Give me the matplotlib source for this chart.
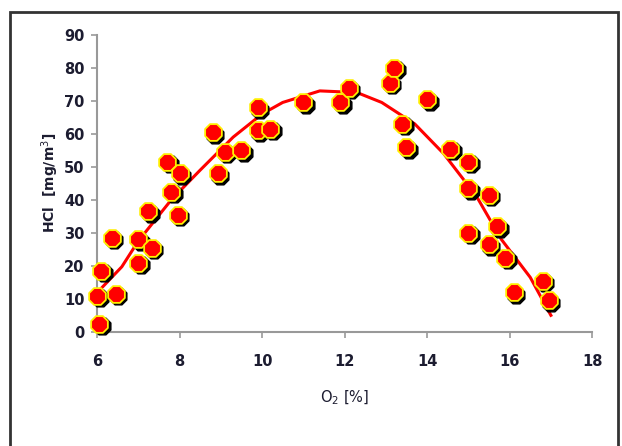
import matplotlib
matplotlib.use("Agg")
import matplotlib.pyplot as plt
import matplotlib.transforms as mtransforms
from matplotlib.patches import Rectangle

# O2 [%] and HCl [mg/m3]
o2 = [6.0, 6.1, 6.05, 6.36, 6.45, 7.0, 7.0, 7.24, 7.33, 7.7, 7.8, 8.0, 7.96,
      8.8, 8.93, 9.1, 9.5, 9.9, 9.9, 10.2, 11.0, 11.9, 12.1, 13.1, 13.2,
      14.0, 13.4, 13.5, 14.56, 15.0, 15.0, 15.0, 15.5, 15.5, 15.7, 15.9,
      16.1, 16.8, 16.95]
hcl = [11, 18.5, 2.5, 28.5, 11.5, 28, 21, 36.5, 25.5, 51.5, 42.5, 48, 35.5,
       60.5, 48, 54.5, 55, 68, 61, 61.5, 69.5, 69.5, 74, 75.5, 80,
       70.5, 63, 56, 55.5, 51.5, 43.5, 30, 41.5, 26.5, 32, 22.5,
       12, 15.5, 9.5]

# trend line
trend_x = [6.05, 6.6, 7.0, 7.8, 8.5, 9.3, 10.0, 10.5, 11.4, 12.3, 12.9,
           13.7, 14.4, 15.2, 15.8, 16.5, 17.0]
trend_y = [12.5, 19.7, 27.5, 40, 49, 59, 66, 69.5, 73, 72.5, 69.5,
           63, 54, 41, 28, 16.5, 5]

xticks = [6, 8, 10, 12, 14, 16, 18]
yticks = [0, 10, 20, 30, 40, 50, 60, 70, 80, 90]

fig = plt.figure(figsize=(6.22, 4.46), dpi=100)
ax = fig.add_axes([0.156, 0.256, 0.796, 0.666])

ax.plot(trend_x, trend_y, color="#ff0000", lw=2.2, zorder=2)

# markers with a dark shadow
shadow = mtransforms.offset_copy(ax.transData, fig=fig, x=2.5, y=-2.5, units="dots")
ax.scatter(o2, hcl, s=170, marker="8", color="black", transform=shadow,
           zorder=3, clip_on=False)
ax.scatter(o2, hcl, s=170, marker="8", facecolor="#ff0000", edgecolor="#ffee00",
           linewidth=1.3, zorder=4, clip_on=False)

ax.set_xlim(6, 18)
ax.set_ylim(0, 90)
ax.set_xticks(xticks)
ax.set_yticks(yticks)
for s in ["top", "right"]:
    ax.spines[s].set_visible(False)
for s in ["left", "bottom"]:
    ax.spines[s].set_color("#999999")
    ax.spines[s].set_linewidth(1.5)
ax.tick_params(colors="#999999", length=4, width=1.2, labelcolor="#1c1c30",
               labelsize=10.5, pad=12)
ax.tick_params(axis="y", pad=5)
for lab in ax.get_xticklabels() + ax.get_yticklabels():
    lab.set_fontweight("bold")

ax.set_xlabel("O$_2$ [%]", fontsize=10.5, color="#1c1c30", labelpad=14)
ax.set_ylabel("HCl  [mg/m$^3$]", fontsize=10, fontweight="bold",
              color="#1c1c30", labelpad=2)

fig.patches.append(Rectangle((10 / 622, -0.05), 608 / 622, 1.05 - 12 / 446,
                             transform=fig.transFigure, fill=False,
                             edgecolor="#333333", lw=2))

fig.savefig("out.png", dpi=100)
